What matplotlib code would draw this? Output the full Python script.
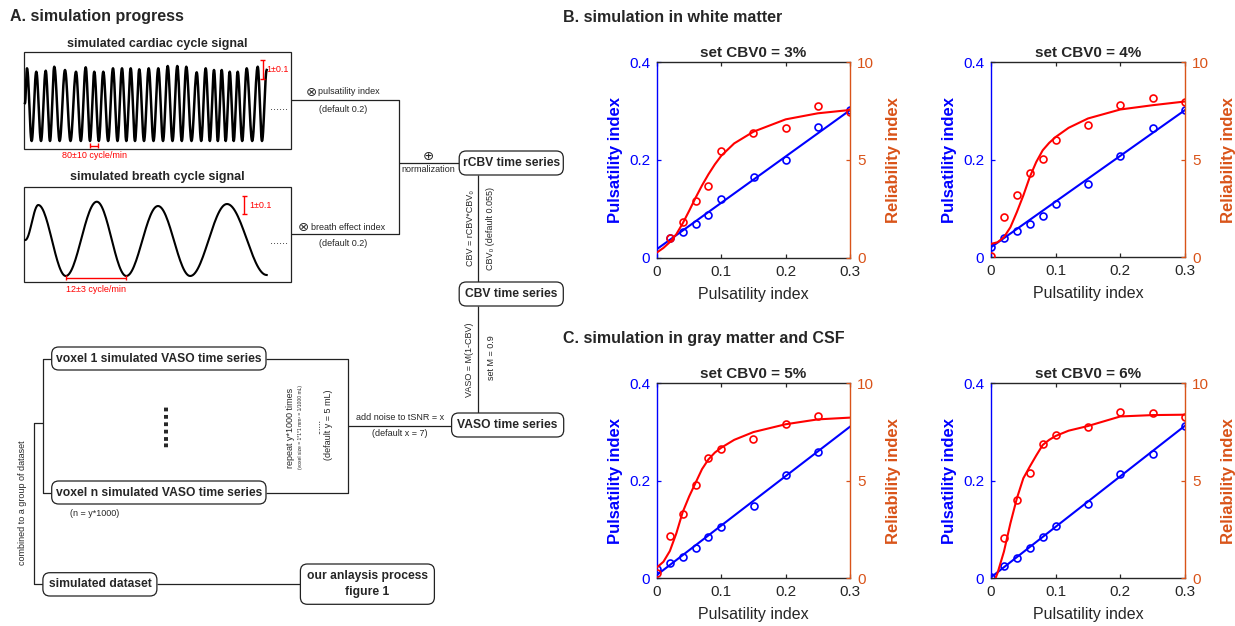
import numpy as np
import matplotlib
matplotlib.use('Agg')
import matplotlib.pyplot as plt
from matplotlib.patches import FancyBboxPatch, Rectangle

plt.rcParams['font.family'] = ['Liberation Sans', 'DejaVu Sans']

W, H = 1235, 626
nan = np.nan

# ---------------- data ----------------
x_pi = [0, 0.02, 0.04, 0.06, 0.08, 0.1, 0.15, 0.2, 0.25, 0.3]
x_curve = [0, 0.01, 0.02, 0.03, 0.04, 0.05, 0.06, 0.07, 0.08, 0.09, 0.10, 0.12, 0.15, 0.20, 0.25, 0.30]
x_fit = [0, 0.3]

# B1: CBV0 = 3%
b1_blue = [nan, 0.040, 0.052, 0.069, 0.087, 0.120, 0.165, 0.201, 0.267, 0.302]
b1_red = [nan, 0.99, 1.81, 2.92, 3.67, 5.48, 6.38, 6.66, 7.76, 7.47]
b1_blue_fit = [0.0177, 0.302]
b1_red_fit = [0.27, 0.50, 0.80, 1.20, 1.76, 2.40, 3.07, 3.70, 4.27, 4.78, 5.22, 5.85, 6.45, 7.08, 7.39, 7.56]

# B2: CBV0 = 4%
b2_blue = [0.0206, 0.039, 0.054, 0.0686, 0.085, 0.110, 0.150, 0.207, 0.266, 0.302]
b2_red = [0.07, 2.08, 3.17, 4.32, 5.06, 6.00, 6.79, 7.80, 8.18, 7.98]
b2_blue_fit = [0.0206, 0.302]
b2_red_fit = [0.69, 0.77, 1.03, 1.54, 2.32, 3.17, 4.12, 4.89, 5.49, 5.87, 6.17, 6.64, 7.12, 7.58, 7.80, 7.99]

# C1: CBV0 = 5%
c1_blue = [0.0185, 0.032, 0.044, 0.063, 0.0855, 0.105, 0.148, 0.211, 0.259, nan]
c1_red = [0.29, 2.19, 3.28, 4.77, 6.19, 6.65, 7.16, 7.90, 8.31, nan]
c1_blue_fit = [0.007, 0.311]
c1_red_fit = [0.56, 0.85, 1.40, 2.30, 3.40, 4.20, 4.90, 5.60, 6.10, 6.45, 6.70, 7.10, 7.50, 7.90, 8.15, 8.24]

# C2: CBV0 = 6%
c2_blue = [0.003, 0.026, 0.042, 0.0615, 0.0855, 0.108, 0.153, 0.213, 0.256, 0.313]
c2_red = [nan, 2.05, 4.02, 5.42, 6.87, 7.37, 7.74, 8.53, 8.48, 8.26]
c2_blue_fit = [0.002, 0.313]
c2_x_curve = [0.007, 0.01, 0.02, 0.03, 0.04, 0.05, 0.06, 0.07, 0.08, 0.09, 0.10, 0.12, 0.15, 0.20, 0.25, 0.30]
c2_red_fit = [0.0, 0.26, 1.37, 2.82, 4.10, 5.13, 5.73, 6.30, 6.84, 7.10, 7.30, 7.57, 7.81, 8.30, 8.37, 8.39]

panel_titles = ['set CBV0 = 3%', 'set CBV0 = 4%', 'set CBV0 = 5%', 'set CBV0 = 6%']
xticks = [0, 0.1, 0.2, 0.3]
xticklabels = ['0', '0.1', '0.2', '0.3']
lticks = [0, 0.2, 0.4]
lticklabels = ['0', '0.2', '0.4']
rticks = [0, 5, 10]
rticklabels = ['0', '5', '10']

# illustrative signals in panel A (extrema, pixel units)
card_peak_x = [27, 36.3, 45.7, 54.3, 65, 76, 85.7, 94.3, 103.3, 113, 122, 130.7, 139.3,
               148.7, 158.3, 167.7, 177.3, 186.3, 196.7, 205.7, 214, 221.7, 229.7, 237.7, 246.7, 257.7]
card_peak_y = [68.3, 71.7, 70.7, 66.7, 70, 71.7, 67.3, 71.7, 71.7, 68.3, 68.3, 68.3, 69.3,
               68.3, 68.3, 66, 66, 66.7, 72.3, 68.3, 70, 70, 71.7, 71.7, 68.3, 66.7]
card_trough_y = 141
breath_ext_x = [25.3, 38.3, 65.8, 96.8, 126.3, 158, 190.2, 227, 266.7]
breath_ext_y = [240, 205, 276, 201.7, 276, 206, 276, 204, 275]

BLUE = '#0000FF'
RED = '#FF0000'
ORANGE = '#D95319'
TXT = '#262626'

fig = plt.figure(figsize=(W / 100, H / 100), dpi=100)

# ---------------- panel A: diagram in pixel coordinates ----------------
a0 = fig.add_axes([0, 0, 1, 1])
a0.set_xlim(0, W)
a0.set_ylim(H, 0)
a0.axis('off')


def T(x, y, s, size=6.5, **kw):
    kw.setdefault('ha', 'center')
    kw.setdefault('va', 'center')
    kw.setdefault('color', TXT)
    a0.text(x, y, s, fontsize=size, **kw)


def L(xs, ys, lw=0.9, color='#222222'):
    a0.plot(xs, ys, color=color, lw=lw, solid_capstyle='butt')


def rbox(x0, y0, x1, y1, label, size=8.7):
    p = FancyBboxPatch((x0, y0), x1 - x0, y1 - y0,
                       boxstyle='round,pad=0,rounding_size=7',
                       fc='white', ec='#222222', lw=0.9, zorder=3)
    a0.add_patch(p)
    T((x0 + x1) / 2, (y0 + y1) / 2, label, size=size, weight='bold', zorder=4,
      linespacing=1.5)


def wave(ex, ey, n=14):
    xs, ys = [], []
    for i in range(len(ex) - 1):
        t = np.linspace(0, 1, n)
        xs.append(ex[i] + (ex[i + 1] - ex[i]) * t)
        ys.append(ey[i] + (ey[i + 1] - ey[i]) * (1 - np.cos(np.pi * t)) / 2)
    return np.concatenate(xs), np.concatenate(ys)


def ibar_v(x, y0, y1, w=2.5):
    L([x, x], [y0, y1], lw=1.0, color=RED)
    L([x - w, x + w], [y0, y0], lw=1.0, color=RED)
    L([x - w, x + w], [y1, y1], lw=1.0, color=RED)


def ibar_h(x0, x1, y, h=2.5):
    L([x0, x1], [y, y], lw=1.0, color=RED)
    L([x0, x0], [y - h, y + h], lw=1.0, color=RED)
    L([x1, x1], [y - h, y + h], lw=1.0, color=RED)


T(10, 17, 'A. simulation progress', size=11.5, weight='bold', ha='left')

# cardiac box
T(157, 44, 'simulated cardiac cycle signal', size=9, weight='bold')
a0.add_patch(Rectangle((24, 52), 267, 97, fc='white', ec='#222222', lw=0.9))
ex, ey = [25], [103]
for i, (px, py) in enumerate(zip(card_peak_x, card_peak_y)):
    ex.append(px)
    ey.append(py)
    if i < len(card_peak_x) - 1:
        ex.append((px + card_peak_x[i + 1]) / 2)
        ey.append(card_trough_y)
ex += [262, 266.7]
ey += [card_trough_y, 70]
cx, cy = wave(ex, ey)
a0.plot(cx, cy, color='black', lw=1.8)
ibar_v(262.5, 60, 79)
T(266, 70, '1±0.1', size=6.5, color=RED, ha='left')
T(279, 107, '......', size=8)
ibar_h(90, 98.4, 145.7)
T(95, 156, '80±10 cycle/min', size=6.5, color=RED)

# breath box
T(157, 177, 'simulated breath cycle signal', size=9, weight='bold')
a0.add_patch(Rectangle((24, 187), 267, 95, fc='white', ec='#222222', lw=0.9))
bx_, by_ = wave(breath_ext_x, breath_ext_y, n=30)
a0.plot(bx_, by_, color='black', lw=1.5)
ibar_v(244.2, 196, 214.3)
T(249.5, 206, '1±0.1', size=6.5, color=RED, ha='left')
T(279, 241, '......', size=8)
ibar_h(65.8, 126.3, 277.7)
T(95.7, 290, '12±3 cycle/min', size=6.5, color=RED)

# connectors to rCBV
L([291, 399.2, 399.2, 291], [100, 100, 234.3, 234.3])
T(311, 92.5, '⊗', size=9.5, family='DejaVu Sans')
T(318, 92, 'pulsatility index', ha='left')
T(343, 109, '(default 0.2)')
T(303, 227.5, '⊗', size=9.5, family='DejaVu Sans')
T(311, 227, 'breath effect index', ha='left')
T(343, 243, '(default 0.2)')
L([399.2, 459.2], [163, 163])
T(427.9, 157, '⊕', size=9.5, family='DejaVu Sans')
T(427.9, 169.5, 'normalization')

rbox(459.2, 151, 563.3, 175, 'rCBV time series')
L([478.4, 478.4], [175, 282])
T(470, 228, 'CBV = rCBV*CBV₀', rotation=90)
T(490.6, 228, 'CBV₀ (default 0.055)', rotation=90)
rbox(459.2, 282, 563.3, 306, 'CBV time series')
L([478.4, 478.4], [306, 413])
T(470, 360, 'VASO = M(1-CBV)', rotation=90)
T(491, 358, 'set M = 0.9', rotation=90)
rbox(451.6, 413, 563.7, 437, 'VASO time series')

L([451.6, 348.3], [426, 426])
T(400, 418, 'add noise to tSNR = x')
T(400, 433, '(default x = 7)')
L([266, 348.3, 348.3, 266], [358.5, 358.5, 492.5, 492.5])
T(290.9, 428, 'repeat y*1000 times', rotation=90)
T(300.5, 427, '(voxel size = 1*1*1 mm³ = 1/1000 mL)', size=3.6, rotation=90)
T(318, 426, '......', size=6.5, rotation=90)
T(328.5, 425, '(default y = 5 mL)', rotation=90)

# bracket on the left
L([51.7, 42.9, 42.9, 51.7], [358.5, 358.5, 492.5, 492.5])
L([42.9, 34.4, 34.4, 42.9], [423.3, 423.3, 584.3, 584.3])
T(23, 503, 'combined to a group of dataset', rotation=90)

rbox(51.7, 347, 266, 370, 'voxel 1 simulated VASO time series')
rbox(51.7, 481, 266, 504, 'voxel n simulated VASO time series')
T(160, 425, '......', size=19, weight='bold', rotation=90)
T(95, 513, '(n = y*1000)')

L([156.9, 300.4], [584.3, 584.3])
rbox(42.9, 572.7, 156.9, 596, 'simulated dataset')
rbox(300.4, 564, 434.4, 604.3, 'our anlaysis process\nfigure 1')

T(563, 17, 'B. simulation in white matter', size=11.5, weight='bold', ha='left')
T(563, 338, 'C. simulation in gray matter and CSF', size=11.5, weight='bold', ha='left')

# ---------------- panels B and C ----------------
panels = [
    ((657, 62.3, 850, 257.7), b1_blue, b1_red, b1_blue_fit, x_curve, b1_red_fit),
    ((991, 62.3, 1185, 257.3), b2_blue, b2_red, b2_blue_fit, x_curve, b2_red_fit),
    ((657, 383.3, 850, 578.3), c1_blue, c1_red, c1_blue_fit, x_curve, c1_red_fit),
    ((991, 383.3, 1185, 578.3), c2_blue, c2_red, c2_blue_fit, c2_x_curve, c2_red_fit),
]

for (rect, bpts, rpts, bfit, xc, rfit), title in zip(panels, panel_titles):
    l, t, r, b = rect
    ax = fig.add_axes([l / W, 1 - b / H, (r - l) / W, (b - t) / H])
    ax2 = ax.twinx()
    ax.set_xlim(0, 0.3)
    ax.set_ylim(0, 0.4)
    ax2.set_ylim(0, 10)

    ax.plot(x_fit, bfit, color=BLUE, lw=1.5)
    ax.plot(x_pi, bpts, 'o', mfc='none', mec=BLUE, ms=5, mew=1.2)
    ax2.plot(xc, rfit, color=RED, lw=1.5)
    ax2.plot(x_pi, rpts, 'o', mfc='none', mec=RED, ms=5, mew=1.2)

    ax.set_xticks(xticks)
    ax.set_xticklabels(xticklabels)
    ax.set_yticks(lticks)
    ax.set_yticklabels(lticklabels)
    ax2.set_yticks(rticks)
    ax2.set_yticklabels(rticklabels)

    ax.tick_params(axis='x', direction='in', top=True, length=3, width=0.9,
                   colors=TXT, labelsize=11, pad=5)
    ax.tick_params(axis='y', direction='in', length=3, width=0.9,
                   colors=BLUE, labelsize=11, pad=5)
    ax2.tick_params(axis='y', direction='in', length=3, width=0.9,
                    colors=ORANGE, labelsize=11, pad=5)

    for s in ['top', 'bottom']:
        ax.spines[s].set_color(TXT)
        ax.spines[s].set_linewidth(1.0)
    ax.spines['left'].set_color(BLUE)
    ax.spines['left'].set_linewidth(1.0)
    ax.spines['right'].set_visible(False)
    for s in ['top', 'bottom', 'left']:
        ax2.spines[s].set_visible(False)
    ax2.spines['right'].set_color(ORANGE)
    ax2.spines['right'].set_linewidth(1.0)

    ax.set_title(title, fontsize=11, weight='bold', color=TXT, pad=4)
    ax.set_xlabel('Pulsatility index', fontsize=11.5, color=TXT)
    ax.xaxis.set_label_coords(0.5, -0.148)
    ax.set_ylabel('Pulsatility index', fontsize=12, weight='bold', color=BLUE)
    ax.yaxis.set_label_coords(-0.175, 0.5)
    ax2.set_ylabel('Reliability index', fontsize=12, weight='bold', color=ORANGE)
    ax2.yaxis.set_label_coords(1.185, 0.5)

fig.savefig('out.png', dpi=100)
